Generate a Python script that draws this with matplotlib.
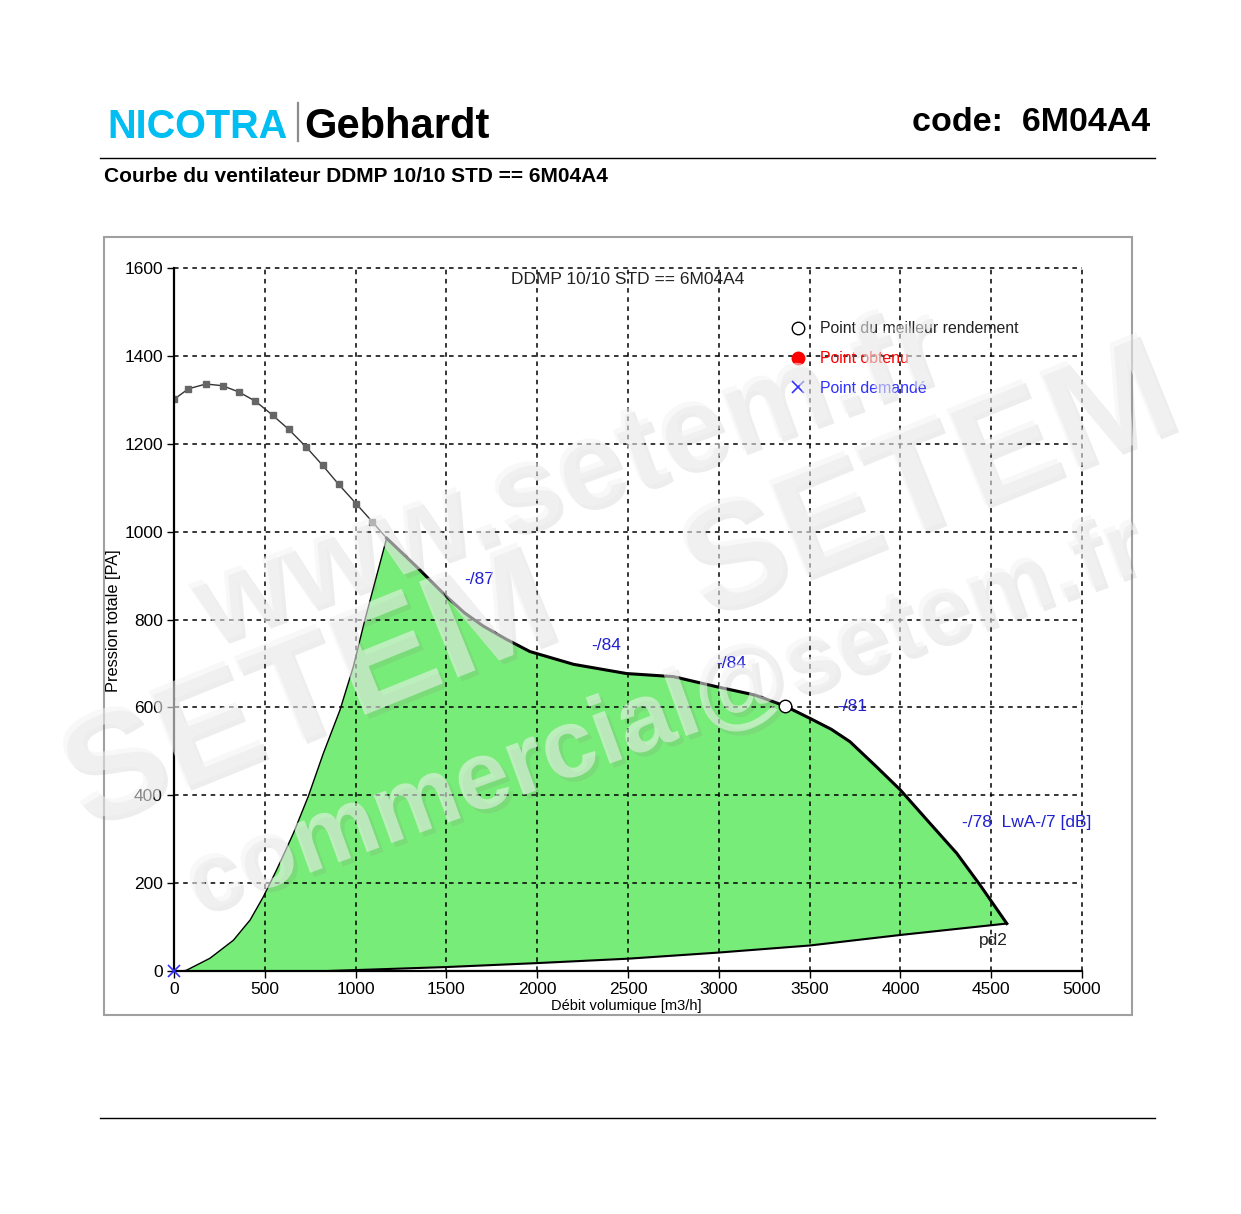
import matplotlib
matplotlib.use("Agg")
import matplotlib.pyplot as plt
from matplotlib.lines import Line2D
from matplotlib.patches import Rectangle
import matplotlib.patheffects as pe
import numpy as np

# ---------------- data ----------------
# thin curve (with measured points), m3/h vs Pa
curve_thin_x = [0, 79, 176, 268, 356, 448, 543, 631, 727, 818, 906, 1002, 1093, 1171]
curve_thin_y = [1301, 1325, 1336, 1332, 1318, 1297, 1265, 1233, 1193, 1151, 1108, 1064, 1022, 985]
# thick curve (working range)
curve_x = [1171, 1336, 1501, 1600, 1703, 1830, 1960, 2200, 2492, 2750, 2988, 3200, 3365, 3502,
           3620, 3722, 3868, 4000, 4163, 4310, 4438, 4586]
curve_y = [985, 920, 852, 815, 785, 755, 727, 698, 677, 670, 647, 628, 603, 575,
           550, 522, 465, 412, 336, 268, 196, 108]
# left boundary of the working area
left_x = [50, 70, 198, 327, 419, 492, 565, 657, 739, 822, 914, 987, 1051, 1171]
left_y = [0, 2, 29, 70, 116, 169, 230, 313, 397, 495, 594, 692, 799, 985]
# lower boundary of the working area
low_x = [850, 1500, 2000, 2500, 3000, 3500, 4000, 4586]
low_y = [0, 9, 18, 28, 42, 58, 82, 108]
# best efficiency point
best_x = [3365]
best_y = [603]
# requested point
req_x = [0]
req_y = [0]

noise_labels = ["-/87", "-/84", "-/84", "-/81", "-/78  LwA-/7 [dB]"]
noise_x = [1600, 2300, 2985, 3655, 4339]
noise_y = [890, 740, 699, 603, 337]

x_ticks = [0, 500, 1000, 1500, 2000, 2500, 3000, 3500, 4000, 4500, 5000]
y_ticks = [0, 200, 400, 600, 800, 1000, 1200, 1400, 1600]

# ---------------- figure ----------------
W, H = 1241, 1214
fig = plt.figure(figsize=(W / 100, H / 100), dpi=100)
fig.patch.set_facecolor("white")
plt.rcParams['font.family'] = ['Liberation Sans', 'DejaVu Sans']

def fx(px):
    return px / W

def fy(py):
    return 1 - py / H

# header
fig.text(fx(107), fy(138), "NICOTRA", color="#00bdf2", fontsize=28.5, fontweight="bold",
         ha="left", va="baseline")
fig.add_artist(Line2D([fx(298), fx(298)], [fy(103), fy(141)], color="#8c8c8c", lw=1.6))
fig.text(fx(304), fy(138), "Gebhardt", color="black", fontsize=30, fontweight="bold",
         ha="left", va="baseline")
fig.text(fx(1150), fy(131), "code:  6M04A4", color="black", fontsize=24.5, fontweight="bold",
         ha="right", va="baseline", family=["Liberation Sans Narrow", "Liberation Sans"])
fig.add_artist(Line2D([fx(100), fx(1155)], [fy(158), fy(158)], color="black", lw=1.0))
fig.text(fx(104), fy(182), "Courbe du ventilateur DDMP 10/10 STD == 6M04A4", color="black",
         fontsize=15, fontweight="bold", ha="left", va="baseline")
fig.add_artist(Line2D([fx(100), fx(1155)], [fy(1118), fy(1118)], color="black", lw=1.0))

# chart frame
fig.add_artist(Rectangle((fx(104), fy(1015)), fx(1132) - fx(104), fy(237) - fy(1015),
                         transform=fig.transFigure, fill=False, edgecolor="#a0a0a0", lw=1.5))

ax = fig.add_axes([fx(174), fy(971), fx(1082) - fx(174), fy(268) - fy(971)])
ax.set_xlim(0, 5000)
ax.set_ylim(0, 1600)
ax.set_xticks(x_ticks)
ax.set_yticks(y_ticks)
ax.tick_params(axis="both", direction="out", length=5, width=1, labelsize=12.5, pad=3)
for s in ["top", "right"]:
    ax.spines[s].set_visible(False)
for s in ["left", "bottom"]:
    ax.spines[s].set_linewidth(1.6)
    ax.spines[s].set_zorder(4)
ax.set_axisbelow(False)
ax.grid(True, color="black", linestyle=(0, (3, 3)), lw=1.1)
for gl in ax.get_xgridlines() + ax.get_ygridlines():
    gl.set_clip_on(False)

# green working area
poly_x = np.concatenate([left_x, curve_x, low_x[::-1]])
poly_y = np.concatenate([left_y, curve_y, low_y[::-1]])
ax.fill(poly_x, poly_y, color="#78ec78", zorder=1, lw=0)
ax.plot(left_x, left_y, color="black", lw=1.0, zorder=3)
ax.plot(low_x, low_y, color="black", lw=1.5, zorder=3)

ax.plot(curve_thin_x, curve_thin_y, color="#333333", lw=1.0, zorder=3)
ax.plot(curve_thin_x[:-1], curve_thin_y[:-1], ls="none", marker="s", ms=4.5,
        mfc="#666666", mec="#666666", zorder=3)
ax.plot(curve_x, curve_y, color="black", lw=2.2, zorder=3, solid_joinstyle="round")

ax.plot(best_x, best_y, ls="none", marker="o", ms=9, mfc="white", mec="black", mew=1, zorder=5)
ax.plot(req_x, req_y, ls="none", marker="x", ms=9, color="#3030ff", mew=1.2, zorder=5,
        clip_on=False)

for t, x, y in zip(noise_labels, noise_x, noise_y):
    ax.text(x, y, t, color="#2020d0", fontsize=12.5, ha="left", va="center", zorder=6)
ax.text(4432, 70, "pd2", color="#222222", fontsize=12.5, ha="left", va="center", zorder=6)

ax.text(2500, 1573, "DDMP 10/10 STD == 6M04A4", color="#222222", fontsize=12.5,
        ha="center", va="center", zorder=6)

handles = [
    Line2D([], [], ls="none", marker="o", ms=9, mfc="white", mec="black"),
    Line2D([], [], ls="none", marker="o", ms=9, mfc="red", mec="red"),
    Line2D([], [], ls="none", marker="x", ms=9, color="#3030ff", mew=1.2),
]
leg = ax.legend(handles, ["Point du meilleur rendement", "Point obtenu", "Point demandé"],
                loc="upper left", bbox_to_anchor=(0.679, 0.924), frameon=False,
                fontsize=11.4, handlelength=1.0, handletextpad=0.85, labelspacing=0.93,
                borderpad=0, borderaxespad=0, labelcolor=["#222222", "red", "#3030ff"])
leg.set_zorder(6)

ax.set_xlabel("Débit volumique [m3/h]", fontsize=10.5, ha="center", va="center")
ax.xaxis.set_label_coords(0.498, -0.050)
ax.set_ylabel("Pression totale [PA]", fontsize=11.8, ha="center", va="center")
ax.yaxis.set_label_coords(-0.067, 0.499)

# watermarks
shadow = [pe.SimplePatchShadow(offset=(3, -3), shadow_rgbFace="#808080", alpha=0.14), pe.Normal()]
wm = dict(color="#f3f3f3", alpha=0.55, fontweight="bold", ha="center", va="center",
          rotation_mode="anchor", path_effects=shadow, zorder=10)
fig.text(fx(570), fy(480), "www.setem.fr", fontsize=88, rotation=20, **wm)
fig.text(fx(310), fy(695), "SETEM", fontsize=108, rotation=22, **wm)
fig.text(fx(930), fy(485), "SETEM", fontsize=108, rotation=22, **wm)
fig.text(fx(665), fy(717), "commercial@setem.fr", fontsize=70, rotation=20, **wm)

fig.savefig("out.png", dpi=100)
